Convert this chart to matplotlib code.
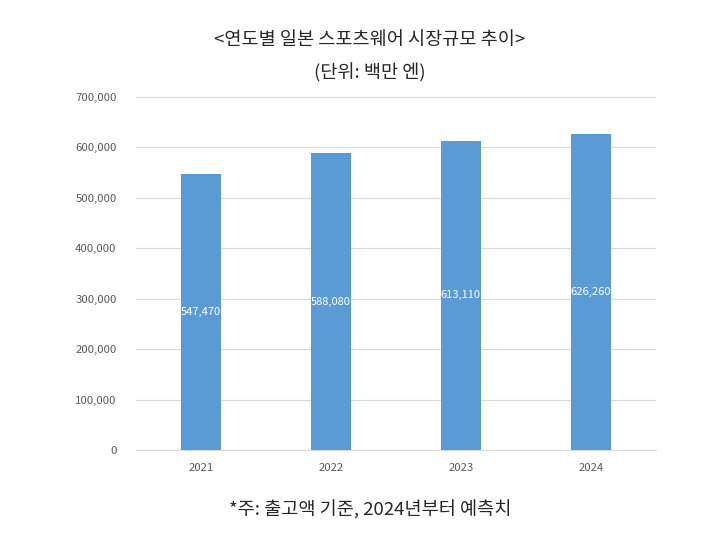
import matplotlib
matplotlib.use("Agg")
import matplotlib.pyplot as plt
from matplotlib.ticker import FuncFormatter

plt.rcParams['font.family'] = ['Noto Sans CJK KR', 'DejaVu Sans']

years = ["2021", "2022", "2023", "2024"]
values = [547470, 588080, 613110, 626260]
yticks = [0, 100000, 200000, 300000, 400000, 500000, 600000, 700000]

fig = plt.figure(figsize=(7.13, 5.49), dpi=100)
ax = fig.add_axes([0.1907, 0.1803, 0.729, 0.643])

x = range(len(years))
bars = ax.bar(x, values, width=0.31, color="#5B9BD5", zorder=3)
for xi, v in zip(x, values):
    ax.text(xi, v / 2, f"{v:,}", ha="center", va="center", color="white", fontsize=8, zorder=4)

ax.set_xlim(-0.5, len(years) - 0.5)
ax.set_ylim(0, 700000)
ax.set_yticks(yticks)
ax.yaxis.set_major_formatter(FuncFormatter(lambda v, p: f"{int(v):,}"))
ax.set_xticks(list(x))
ax.set_xticklabels(years)
ax.grid(axis="y", color="#D9D9D9", linewidth=0.8, zorder=0)
for s in ["top", "right", "left"]:
    ax.spines[s].set_visible(False)
ax.spines["bottom"].set_color("#D9D9D9")
ax.tick_params(axis="both", length=0, labelsize=8.2, labelcolor="#595959")
ax.tick_params(axis="y", pad=14)
ax.tick_params(axis="x", pad=9)

fig.text(0.518, 0.927, "<연도별 일본 스포츠웨어 시장규모 추이>", ha="center", va="center", fontsize=13.4, color="#262626")
fig.text(0.518, 0.867, "(단위: 백만 엔)", ha="center", va="center", fontsize=13.4, color="#262626")
fig.text(0.519, 0.071, "*주: 출고액 기준, 2024년부터 예측치", ha="center", va="center", fontsize=13.4, color="#262626")

fig.savefig("out.png", dpi=100)
